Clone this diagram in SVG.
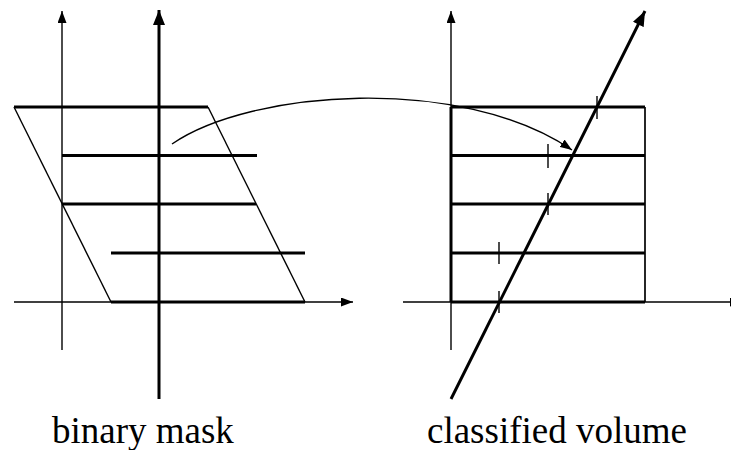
<svg xmlns="http://www.w3.org/2000/svg" width="731" height="450" viewBox="0 0 731 450">
<style>
.thin{stroke:#000;stroke-width:1.4;fill:none}
.thick{stroke:#000;stroke-width:3;fill:none}
.mid{stroke:#000;stroke-width:1.7;fill:none}
text{font-family:"Times New Roman","Liberation Serif",Tinos,serif;font-size:37px;fill:#000}
</style>
<defs>
<marker id="ah" markerUnits="userSpaceOnUse" markerWidth="12" markerHeight="9" refX="12" refY="4.5" orient="auto" viewBox="0 0 12 9"><path d="M0,0 L12,4.5 L0,9 z" fill="#000"/></marker>
<marker id="ahb" markerUnits="userSpaceOnUse" markerWidth="15" markerHeight="12" refX="15" refY="6" orient="auto" viewBox="0 0 15 12"><path d="M0,0 L15,6 L0,12 z" fill="#000"/></marker>
</defs>
<rect width="731" height="450" fill="#fff"/>
<g id="binary-mask">
<line class="thin" x1="62" y1="350" x2="62" y2="11" marker-end="url(#ah)"/>
<line class="thin" x1="14" y1="302" x2="353" y2="302" marker-end="url(#ah)"/>
<line class="thick" x1="159" y1="399" x2="159" y2="10" marker-end="url(#ahb)"/>
<line class="thin" x1="14" y1="107" x2="111" y2="302"/>
<line class="thin" x1="208" y1="107" x2="305" y2="302"/>
<line class="thick" x1="14" y1="107" x2="208" y2="107"/>
<line class="thick" x1="62" y1="155.5" x2="257" y2="155.5"/>
<line class="thick" x1="62" y1="204" x2="256" y2="204"/>
<line class="thick" x1="111" y1="253" x2="305" y2="253"/>
<line class="thick" x1="111" y1="302" x2="305" y2="302"/>
<text x="52" y="443">binary mask</text>
</g>
<g id="classified-volume">
<line class="thin" x1="451" y1="350" x2="451" y2="11" marker-end="url(#ah)"/>
<line class="thin" x1="403" y1="302" x2="742" y2="302" marker-end="url(#ah)"/>
<line class="thick" x1="451" y1="107" x2="451" y2="302"/>
<line class="mid" x1="645" y1="107" x2="645" y2="302"/>
<line class="thick" x1="451" y1="107" x2="645" y2="107"/>
<line class="thick" x1="451" y1="155.5" x2="645" y2="155.5"/>
<line class="thick" x1="451" y1="204" x2="645" y2="204"/>
<line class="thick" x1="451" y1="253" x2="645" y2="253"/>
<line class="thick" x1="451" y1="302" x2="645" y2="302"/>
<line class="thin" x1="597" y1="96" x2="597" y2="119"/>
<line class="thin" x1="548" y1="144" x2="548" y2="168"/>
<line class="thin" x1="548" y1="193" x2="548" y2="215"/>
<line class="thin" x1="499" y1="242" x2="499" y2="264"/>
<line class="thin" x1="499" y1="291" x2="499" y2="313"/>
<line class="thick" x1="451" y1="399" x2="645" y2="11" marker-end="url(#ahb)"/>
<text x="427" y="443">classified volume</text>
</g>
<g id="connectors">
<path class="thin" d="M172,144 C250,90 460,74 572,150" marker-end="url(#ah)"/>
</g>
</svg>
